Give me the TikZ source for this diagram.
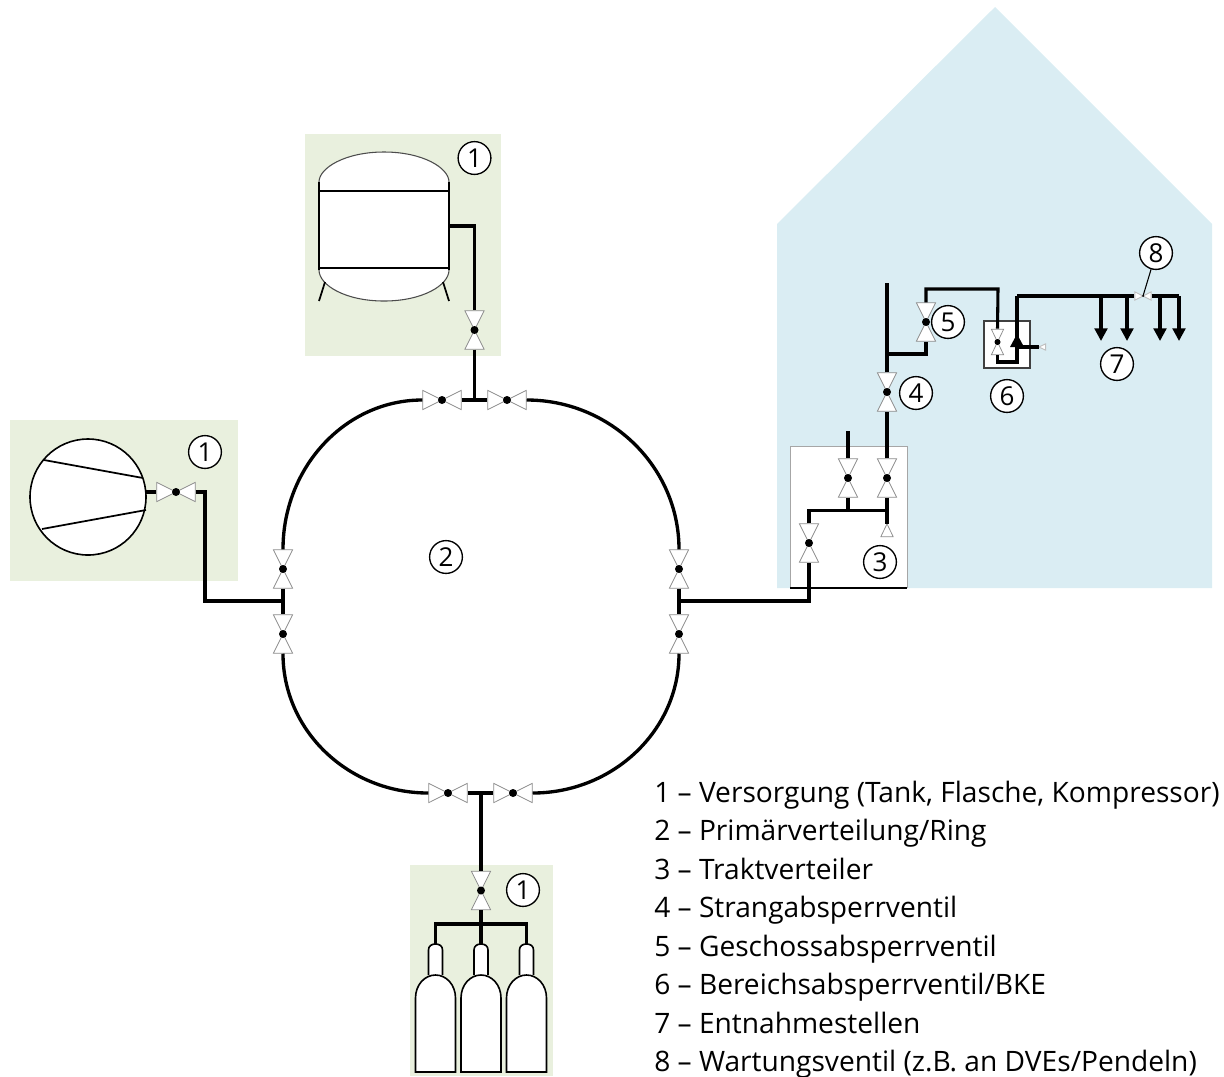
\documentclass[tikz,border=0pt]{standalone}
\usepackage{fontspec}
\setmainfont{Open Sans}
\usetikzlibrary{arrows.meta,calc}
\definecolor{houseblue}{HTML}{DAEDF3}
\definecolor{supplygreen}{HTML}{E9F0DE}
\definecolor{boxedge}{HTML}{A6A6A6}
\definecolor{valveedge}{HTML}{8C8C8C}
\definecolor{valvelight}{HTML}{BFBFBF}
\newcommand{\bbx}{path picture bounding box}
\newcommand{\vertpaint}[2]{%
  \filldraw[#1] ([shift={(.5,.5)}]\bbx.north west) -- ([shift={(-.5,.5)}]\bbx.north east) -- (\bbx.center) -- cycle;
  \filldraw[#1] ([shift={(.5,-.5)}]\bbx.south west) -- ([shift={(-.5,-.5)}]\bbx.south east) -- (\bbx.center) -- cycle;
  \fill[black] (\bbx.center) circle[radius=#2];}
\newcommand{\horipaint}[2]{%
  \filldraw[#1] ([shift={(.5,.5)}]\bbx.north west) -- ([shift={(.5,-.5)}]\bbx.south west) -- (\bbx.center) -- cycle;
  \filldraw[#1] ([shift={(-.5,.5)}]\bbx.north east) -- ([shift={(-.5,-.5)}]\bbx.south east) -- (\bbx.center) -- cycle;
  \fill[black] (\bbx.center) circle[radius=#2];}
\tikzset{
  x=.75pt,y=-.75pt,
  pipe/.style={line width=2.5pt,line join=miter,line cap=butt},
  thinpipe/.style={line width=2.3pt,line join=miter,line cap=butt},
  vessel/.style={draw=black,fill=white,line width=1.2pt},
  seam/.style={line width=1.3pt,draw=black},
  face/.style={fill=white,draw=valveedge,line width=.55pt},
  openface/.style={draw=valveedge,line width=.55pt,fill=none},
  lightface/.style={fill=white,draw=valvelight,line width=.7pt},
  valvebase/.style={shape=rectangle,inner sep=0pt,outer sep=0pt,draw=none},
  vvalve/.style={valvebase,minimum width=15.2pt,minimum height=29.6pt,path picture={\vertpaint{face}{4}}},
  hvalve/.style={valvebase,minimum width=29.6pt,minimum height=15.2pt,path picture={\horipaint{face}{4}}},
  hopenvalve/.style={valvebase,minimum width=29.6pt,minimum height=15.2pt,path picture={\horipaint{openface}{4}}},
  smallvalve/.style={valvebase,minimum width=10pt,minimum height=20pt,path picture={\vertpaint{openface}{3}}},
  tinyvalve/.style={valvebase,minimum width=13pt,minimum height=7pt,path picture={\horipaint{lightface}{1}}},
  numcircle/.style={circle,draw=black,line width=1pt,fill=white,minimum size=24.6pt,inner sep=0pt,font=\fontsize{19.5}{20}\selectfont},
  legend/.style={anchor=base west,inner sep=0pt,font=\fontsize{21.1}{24}\selectfont},
}
\begin{document}
\begin{tikzpicture}
\useasboundingbox (0,0) rectangle (1224,1076);
% zones
\fill[houseblue] (777,588) -- (777,224) -- (995,7) -- (1212,224) -- (1212,588) -- cycle;
\fill[supplygreen] (305,134) rectangle (501,356);
\fill[supplygreen] (10,420) rectangle (238,581);
\fill[supplygreen] (410,865) rectangle (553,1076);
\draw[boxedge,fill=white,line width=.7pt] (790,588) -- (790,446) -- (907,446) -- (907,588);
\draw[black,line width=.9pt] (790,588) -- (907,588);
\draw[black!75,fill=white,line width=1pt] (984,321) rectangle (1030,368);
% tank
\fill[white] (319,182) .. controls (319,168) and (345,152) .. (384,152) .. controls (423,152) and (449,168) .. (449,182)
  -- (449,270) .. controls (449,285) and (423,301) .. (384,301) .. controls (345,301) and (319,285) .. (319,270) -- cycle;
\draw[black!70,line width=.8pt] (319,182) .. controls (319,168) and (345,152) .. (384,152) .. controls (423,152) and (449,168) .. (449,182);
\draw[black!70,line width=.8pt] (449,270) .. controls (449,285) and (423,301) .. (384,301) .. controls (345,301) and (319,285) .. (319,270);
\draw[black,line width=1pt] (319,182) -- (319,270);
\draw[black,line width=1pt] (449,182) -- (449,270);
\draw[seam] (319,191) -- (449,191);
\draw[seam] (319,268) -- (449,268);
\draw[seam] (325,282) -- (319,301);
\draw[seam] (443,282) -- (449,301);
\coordinate (tankport) at (448,226);
% compressor
\node[circle,draw=black,line width=1.2pt,fill=white,minimum size=87pt,inner sep=0pt] (comp) at (88,497) {};
\draw[seam] (44,460) -- (143,478);
\draw[seam] (42,529) -- (146,510);
% bottles
\foreach \bx/\bn in {435.5/bottleA,481/bottleB,526.5/bottleC}{
  \draw[vessel] (\bx-7,975) -- (\bx-7,950) .. controls (\bx-7,946) and (\bx-4,944) .. (\bx,944) .. controls (\bx+4,944) and (\bx+7,946) .. (\bx+7,950) -- (\bx+7,975);
  \draw[vessel] (\bx-20,1072) -- (\bx-20,998) .. controls (\bx-20,985) and (\bx-11,975) .. (\bx,975) .. controls (\bx+11,975) and (\bx+20,985) .. (\bx+20,998) -- (\bx+20,1072) -- cycle;
  \coordinate (\bn) at (\bx,944);
}
% valves
\node[vvalve] (vTank) at (474.5,330) {};
\node[hvalve] (vRingTL) at (442,400) {};
\node[hvalve] (vRingTR) at (507,400) {};
\node[vvalve] (vRingLU) at (283,569) {};
\node[vvalve] (vRingLD) at (283,634) {};
\node[vvalve] (vRingRU) at (679,569) {};
\node[vvalve] (vRingRD) at (679,634) {};
\node[hopenvalve] (vRingBL) at (448,793) {};
\node[hvalve] (vRingBR) at (513,793) {};
\node[hvalve] (vComp) at (176,492) {};
\node[vvalve] (vBottle) at (481,890.5) {};
\node[vvalve] (vTrIn) at (809,543) {};
\node[vvalve] (vTrA) at (848,478) {};
\node[vvalve] (vTrB) at (887,478) {};
\node[vvalve] (vStrang) at (887,392) {};
\node[vvalve] (vFloor) at (926,322) {};
\node[smallvalve] (vBke) at (997.5,342) {};
\node[tinyvalve] (vMaint) at (1143,296) {};
\node[valvebase,minimum width=10pt,minimum height=10pt,path picture={\filldraw[face] ($(\bbx.south west)+(.5,-.5)$) -- ($(\bbx.south east)+(-.5,-.5)$) -- (\bbx.north) -- cycle;}] (capUp) at (887,530.5) {};
\node[valvebase,minimum width=5.5pt,minimum height=5.5pt,path picture={\filldraw[lightface] ($(\bbx.north east)+(-.5,.5)$) -- ($(\bbx.south east)+(-.5,-.5)$) -- (\bbx.west) -- cycle;}] (capLeft) at (1042.5,347) {};
% junctions
\coordinate (ringT) at (474.5,400);
\coordinate (ringB) at (481,793);
\coordinate (ringL) at (283,601);
\coordinate (ringR) at (679,601);
% ring
\draw[pipe] (vRingTL.west) .. controls +(-77,0) and +(0,-82) .. (vRingLU.north);
\draw[pipe] (vRingTR.east) .. controls +(84,0) and +(0,-82) .. (vRingRU.north);
\draw[pipe] (vRingLD.south) .. controls +(0,77) and +(-80,0) .. (vRingBL.west);
\draw[pipe] (vRingRD.south) .. controls +(0,77) and +(80,0) .. (vRingBR.east);
\draw[pipe] (vRingTL.east) -- (vRingTR.west);
\draw[pipe] (vRingBL.east) -- (vRingBR.west);
\draw[pipe] (vRingLU.south) -- (vRingLD.north);
\draw[pipe] (vRingRU.south) -- (vRingRD.north);
% tank feed
\draw[pipe] (tankport) -| (vTank.north);
\draw[pipe] (vTank.south) -- (ringT);
% compressor feed
\coordinate (compPort) at (146,492);
\draw[pipe] (compPort) -- (vComp.west);
\draw[pipe] (vComp.east) -- (205,492) |- (ringL);
% bottle feed
\draw[pipe] (ringB) -- (vBottle.north);
\coordinate (manifold) at (481,924);
\draw[pipe] (vBottle.south) -- (manifold);
\draw[pipe] (manifold) -- (bottleB);
\draw[pipe] (bottleA) |- (bottleC |- manifold) -- (bottleC);
% to building
\draw[pipe] (ringR) -| (vTrIn.south);
\coordinate (trunk) at (887,510.5);
\draw[thinpipe] (vTrIn.north) |- (trunk);
\draw[thinpipe] (vTrB.south) -- (trunk) -- (capUp.north);
\draw[thinpipe] (vTrA.south) -- (vTrA.south |- trunk);
\coordinate (stubA) at (848,431);
\draw[thinpipe] (stubA) -- (vTrA.north);
\draw[thinpipe] (vTrB.north) -- (vStrang.south);
\coordinate (riserTop) at (887,283);
\coordinate (riserBranch) at (887,354);
\draw[thinpipe] (vStrang.north) -- (riserTop);
\draw[thinpipe] (riserBranch) -| (vFloor.south);
\draw[thinpipe] (vFloor.north) |- (998,289) -- (vBke.north);
% BKE
\coordinate (bkeLow) at (1017,362);
\coordinate (mainL) at (1017,296);
\draw[thinpipe] (vBke.south) |- (bkeLow) -- (mainL);
\fill[black] (1017,334) -- (1024,347) -- (1010,347) -- cycle;
\draw[thinpipe] (1017,347) -- (capLeft.west);
\coordinate (mainR) at (1179,296);
\draw[thinpipe] (mainL) -- (vMaint.west);
\draw[thinpipe] (vMaint.east) -- (mainR);
\foreach \dx in {1101,1127,1160}{
  \draw[thinpipe,-{Triangle[width=9.5pt,length=9.5pt]}] (\dx,296) -- (\dx,341);
}
\draw[thinpipe,-{Triangle[width=9.5pt,length=9.5pt]}] (mainR) -- (1179,341);
% numbers
\node[numcircle] (nTank) at (474.5,158) {1};
\node[numcircle] (nComp) at (205,452) {1};
\node[numcircle] (nBottle) at (523,890) {1};
\node[numcircle] (nRing) at (446,557) {2};
\node[numcircle] (nTrakt) at (880,562) {3};
\node[numcircle] (nStrang) at (916,393) {4};
\node[numcircle] (nFloor) at (948,322) {5};
\node[numcircle] (nBke) at (1007,396) {6};
\node[numcircle] (nTap) at (1117,364) {7};
\node[numcircle] (nMaint) at (1156,253) {8};
\draw[black,line width=.8pt] (nMaint) -- (vMaint.center);
% legend
\node[legend] (l1) at (654,802) {1 – Versorgung (Tank, Flasche, Kompressor)};
\node[legend] (l2) at (654,840.5) {2 – Primärverteilung/Ring};
\node[legend] (l3) at (654,879) {3 – Traktverteiler};
\node[legend] (l4) at (654,917.5) {4 – Strangabsperrventil};
\node[legend] (l5) at (654,956) {5 – Geschossabsperrventil};
\node[legend] (l6) at (654,994.5) {6 – Bereichsabsperrventil/BKE};
\node[legend] (l7) at (654,1033) {7 – Entnahmestellen};
\node[legend] (l8) at (654,1071.5) {8 – Wartungsventil (z.B. an DVEs/Pendeln)};
\end{tikzpicture}
\end{document}
